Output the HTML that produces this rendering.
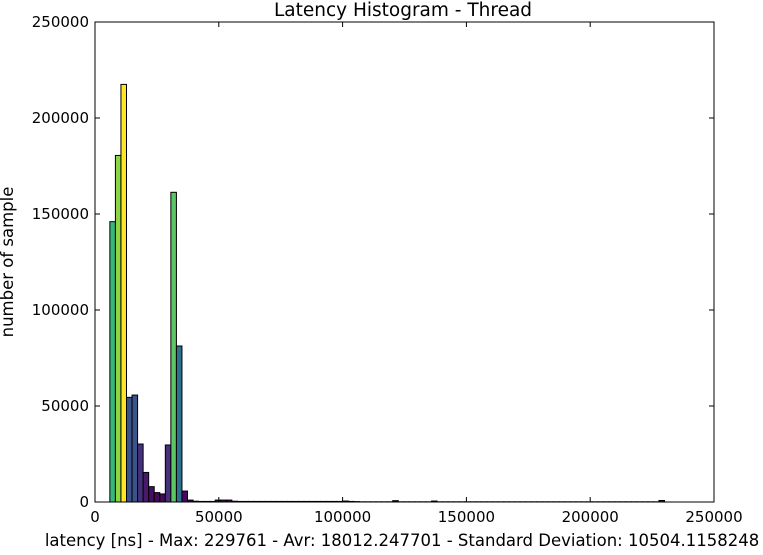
<!DOCTYPE html>
<html><head><meta charset="utf-8"><style>
body{margin:0;background:#fff;}
svg text{font-family:"DejaVu Sans","Liberation Sans",sans-serif;font-size:15px;fill:#000;}
</style></head><body>
<svg id="chart" width="763" height="550" xmlns="http://www.w3.org/2000/svg"></svg>
<script>
const binStart = 6000;
const binWidth = 2240;
const counts = [146000,180500,217500,54500,55700,30200,15400,8000,4900,4200,29700,161300,81250,5700,1000,
 400,300,300,300,1000,1000,1000,400,300,300,300,300,300,300,300,300,300,300,300,300,300,300,300,300,300,
 300,300,500,300,200,100,100,100,100,100,100,700,100,100,100,100,100,100,500,100,
 100,100,100,100,100,100,100,100,100,100,100,100,100,100,100,100,100,100,100,100,
 100,100,100,100,100,100,100,100,100,100,100,100,100,100,100,100,100,100,100,800];
const xTicks = [0,50000,100000,150000,200000,250000];
const yTicks = [0,50000,100000,150000,200000,250000];
const X0=95,X1=714,Y0=502,Y1=22;
const sx=v=>X0+(v/250000)*(X1-X0);
const sy=v=>Y0-(v/250000)*(Y0-Y1);
const vir=[[68,1,84],[72,40,120],[62,74,137],[49,104,142],[38,130,142],[31,158,137],[53,183,121],[109,205,89],[180,222,44],[253,231,37]];
function viridis(t){t=Math.max(0,Math.min(1,t))*(vir.length-1);const i=Math.min(vir.length-2,Math.floor(t)),f=t-i;
 const c=vir[i].map((a,k)=>Math.round(a+(vir[i+1][k]-a)*f));return `rgb(${c[0]},${c[1]},${c[2]})`;}
const svg=document.getElementById('chart');const NS='http://www.w3.org/2000/svg';
function mk(tag,attrs,parent){const e=document.createElementNS(NS,tag);for(const k in attrs)e.setAttribute(k,attrs[k]);(parent||svg).appendChild(e);return e;}
const maxC=Math.max(...counts);
counts.forEach((c,i)=>{
 const x=sx(binStart+i*binWidth),x2=sx(binStart+(i+1)*binWidth),y=sy(c);
 const r=mk('rect',{x:x,y:y,width:x2-x,height:Y0-y,fill:viridis(c/maxC),stroke:'#000','stroke-width':1});
 
 
});
const frame=mk('rect',{x:X0,y:Y1,width:X1-X0,height:Y0-Y1,fill:'none',stroke:'#000','stroke-width':1});


xTicks.forEach(v=>{const x=sx(v);
 mk('line',{x1:x,x2:x,y1:Y0,y2:Y0-5,stroke:'#000'});mk('line',{x1:x,x2:x,y1:Y1,y2:Y1+5,stroke:'#000'});
 const t=mk('text',{x:x,y:Y0+20,'text-anchor':'middle'});t.textContent=v;
 
 
});
yTicks.forEach(v=>{const y=sy(v);
 mk('line',{x1:X0,x2:X0+5,y1:y,y2:y,stroke:'#000'});mk('line',{x1:X1,x2:X1-5,y1:y,y2:y,stroke:'#000'});
 const t=mk('text',{x:X0-6,y:y+5,'text-anchor':'end'});t.textContent=v;
 
 
});
</script>
<div style="position:absolute;left:0;top:0;width:763px;height:550px;pointer-events:none;">
<svg width="763" height="550" xmlns="http://www.w3.org/2000/svg">
<text x="403" y="16" text-anchor="middle" style="font-size:18.5px">Latency Histogram - Thread</text>
<text x="402" y="546" text-anchor="middle" style="font-size:16.5px">latency [ns] - Max: 229761 - Avr: 18012.247701 - Standard Deviation: 10504.1158248</text>
<text x="13" y="262" text-anchor="middle" transform="rotate(-90 13 262)" style="font-size:16.5px">number of sample</text>
</svg></div>
</body></html>
